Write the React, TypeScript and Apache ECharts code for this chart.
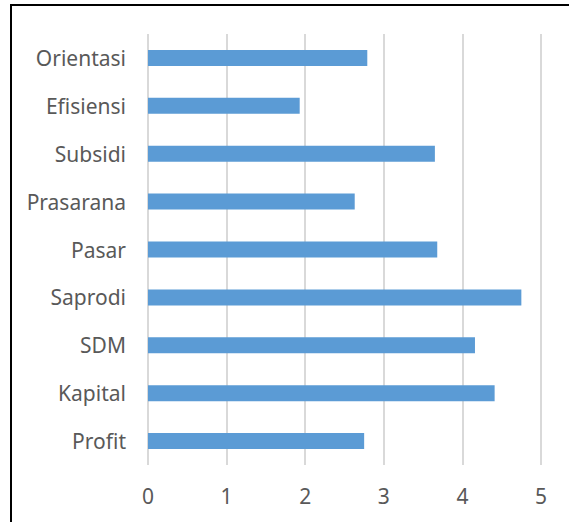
import React, { useEffect, useRef } from "react";
import * as echarts from "echarts";

const categories = ["Profit", "Kapital", "SDM", "Saprodi", "Pasar", "Prasarana", "Subsidi", "Efisiensi", "Orientasi"];
const values = [2.75, 4.41, 4.16, 4.75, 3.68, 2.63, 3.65, 1.93, 2.79];
const xTicks = { min: 0, max: 5, interval: 1 };

export default function App() {
  const ref = useRef<HTMLDivElement>(null);
  useEffect(() => {
    if (!ref.current) return;
    const chart = echarts.init(ref.current, null, { renderer: "svg" });
    chart.setOption({
      animation: false,
      backgroundColor: "#ffffff",
      textStyle: { fontFamily: "Noto Sans" },
      grid: { left: 148, right: 28, top: 34, bottom: 57, containLabel: false },
      xAxis: {
        type: "value",
        min: xTicks.min,
        max: xTicks.max,
        interval: xTicks.interval,
        axisLine: { show: false },
        axisTick: { show: false },
        splitLine: { show: true, lineStyle: { color: "#d9d9d9", width: 2 } },
        axisLabel: { color: "#595959", fontSize: 21, margin: 20, fontFamily: "Noto Sans" },
      },
      yAxis: {
        type: "category",
        data: categories,
        axisLine: { show: false },
        axisTick: { show: false },
        axisLabel: { color: "#595959", fontSize: 21, margin: 22, fontFamily: "Noto Sans" },
      },
      series: [
        {
          type: "bar",
          data: values,
          barWidth: 16,
          itemStyle: { color: "#5B9BD5" },
        },
      ],
      graphic: [
        { type: "line", shape: { x1: 10, y1: 5, x2: 569, y2: 5 }, style: { stroke: "#000", lineWidth: 2 } },
        { type: "line", shape: { x1: 11, y1: 4, x2: 11, y2: 522 }, style: { stroke: "#000", lineWidth: 2 } },
      ],
    });
    return () => chart.dispose();
  }, []);
  return <div ref={ref} style={{ width: 569, height: 522, position: "absolute", left: 0, top: 0 }} />;
}
